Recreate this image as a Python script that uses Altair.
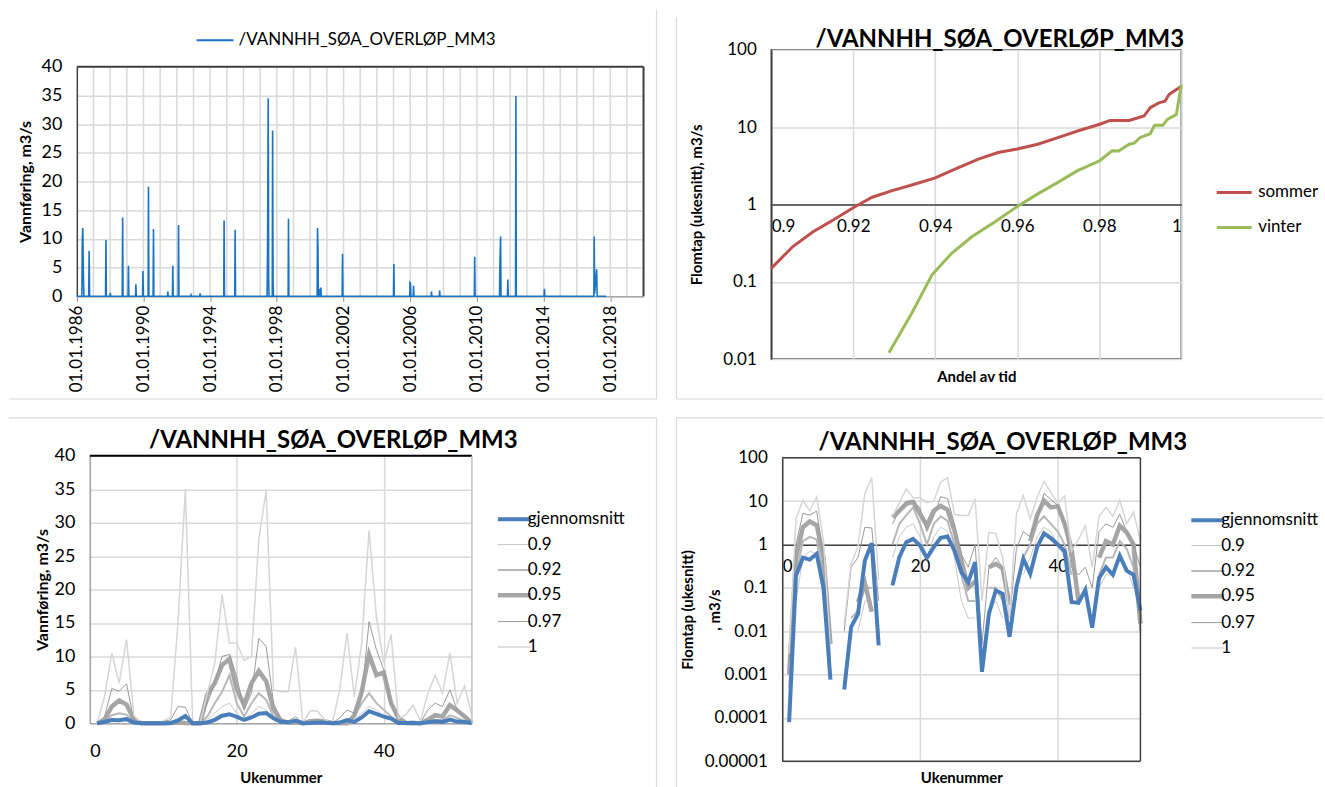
import altair as alt
import pandas as pd

FONT = "Lato"
TITLE = "/VANNHH_SØA_OVERLØP_MM3"
DARK = "#404040"
GRID = "#d9d9d9"
AXIS_GRAY = "#a6a6a6"
BORDER = "#d9d9d9"

# ---------------- Top left: flow over time ----------------
ts_dates = [
    "1986-01-01", "1986-04-22", "1986-05-01", "1986-05-12", "1986-05-24", "1986-06-05",
    "1986-09-18", "1986-09-28", "1986-10-08",
    "1987-09-22", "1987-10-01", "1987-10-10",
    "1987-12-28", "1988-01-05", "1988-01-14",
    "1988-09-22", "1988-10-01", "1988-10-10",
    "1989-01-28", "1989-02-05", "1989-02-14",
    "1989-07-10", "1989-07-18", "1989-07-27",
    "1989-12-12", "1989-12-20", "1989-12-29",
    "1990-04-12", "1990-04-20", "1990-04-29",
    "1990-07-30", "1990-08-08", "1990-08-17",
    "1991-06-10", "1991-06-18", "1991-06-27",
    "1991-09-27", "1991-10-05", "1991-10-14",
    "1992-01-31", "1992-02-08", "1992-02-17",
    "1992-11-01", "1992-11-08", "1992-11-16",
    "1993-05-17", "1993-05-25", "1993-06-03",
    "1994-10-25", "1994-11-02", "1994-11-11",
    "1995-06-24", "1995-07-02", "1995-07-11",
    "1997-06-02", "1997-06-12", "1997-06-26", "1997-07-06", "1997-07-15",
    "1997-09-22", "1997-09-30", "1997-10-10", "1997-10-19",
    "1998-09-05", "1998-09-13", "1998-09-22",
    "2000-06-02", "2000-06-10", "2000-06-20", "2000-06-29",
    "2000-07-28", "2000-08-05", "2000-08-15", "2000-08-22", "2000-08-31",
    "2001-12-02", "2001-12-10", "2001-12-19",
    "2004-12-31", "2005-01-08", "2005-01-17",
    "2005-12-20", "2005-12-28", "2006-01-08", "2006-01-17",
    "2006-03-07", "2006-03-15", "2006-03-24",
    "2007-04-04", "2007-04-12", "2007-04-21",
    "2007-09-30", "2007-10-08", "2007-10-17",
    "2009-11-06", "2009-11-14", "2009-11-23",
    "2011-05-12", "2011-05-20", "2011-06-05", "2011-06-14",
    "2011-11-02", "2011-11-10", "2011-11-19",
    "2012-04-27", "2012-05-05", "2012-05-14",
    "2014-01-12", "2014-01-20", "2014-01-29",
    "2017-01-08", "2017-01-15", "2017-01-25", "2017-03-10", "2017-03-20",
    "2017-10-01",
]
ts_values = [
    0, 0, 10.2, 11.9, 4.2, 0,
    0, 7.9, 0,
    0, 9.8, 0,
    0, 0.6, 0,
    0, 13.7, 0,
    0, 5.3, 0,
    0, 2.1, 0,
    0, 4.4, 0,
    0, 19.1, 0,
    0, 11.7, 0,
    0, 0.8, 0,
    0, 5.3, 0,
    0, 12.4, 0,
    0, 0.2, 0,
    0, 0.5, 0,
    0, 13.2, 0,
    0, 11.6, 0,
    0, 9.6, 34.5, 2.6, 0,
    0, 28.9, 2.8, 0,
    0, 13.5, 0,
    0, 11.9, 8.6, 0,
    0, 1.3, 0.4, 1.5, 0,
    0, 7.4, 0,
    0, 5.6, 0,
    0, 2.4, 2.3, 0,
    0, 1.8, 0,
    0, 0.8, 0,
    0, 1.0, 0,
    0, 6.9, 0,
    0, 5.5, 10.4, 0,
    0, 2.9, 0,
    0, 34.9, 0,
    0, 1.3, 0,
    0, 10.4, 0.5, 4.7, 0,
    0,
]
tl_label_years = [1986, 1990, 1994, 1998, 2002, 2006, 2010, 2014, 2018]
tl_grid_years = [1987, 1988, 1989, 1990, 1991, 1992, 1993, 1994, 1995, 1996, 1997,
                 1998, 1999, 2000, 2001, 2002, 2003, 2004, 2005, 2006, 2007, 2008,
                 2009, 2010, 2011, 2012, 2013, 2014, 2015, 2016, 2017, 2018, 2019, 2020]
tl_y_ticks = [0, 5, 10, 15, 20, 25, 30, 35, 40]

# ---------------- Top right: duration curves ----------------
sommer_andel = [0.9, 0.9052, 0.9101, 0.9149, 0.9202, 0.9246, 0.9295, 0.9351, 0.94, 0.9448,
                0.9505, 0.9553, 0.96, 0.965, 0.9699, 0.9747, 0.9801, 0.9826, 0.9873, 0.9909,
                0.9924, 0.9945, 0.996, 0.997, 1.0]
sommer_flomtap = [0.149, 0.283, 0.44, 0.62, 0.92, 1.24, 1.51, 1.84, 2.2, 2.87,
                  3.86, 4.7, 5.2, 6.0, 7.3, 8.9, 10.9, 12.2, 12.2, 13.9,
                  17.8, 20.6, 21.6, 26.4, 33.7]
vinter_andel = [0.9287, 0.9343, 0.9392, 0.944, 0.9489, 0.9545, 0.96, 0.965, 0.9699, 0.9747,
                0.9801, 0.9831, 0.9847, 0.9873, 0.9885, 0.9899, 0.9924, 0.9935, 0.9955, 0.9966,
                0.9988, 1.0]
vinter_flomtap = [0.0121, 0.0395, 0.123, 0.233, 0.381, 0.593, 0.94, 1.37, 1.93, 2.73,
                  3.67, 4.93, 4.9, 6.0, 6.2, 7.3, 8.2, 10.6, 10.6, 12.6,
                  14.6, 35.5]
tr_x_ticks = [0.9, 0.92, 0.94, 0.96, 0.98, 1.0]
tr_y_ticks = [0.01, 0.1, 1, 10, 100]

# ---------------- Bottom: per week ----------------
uker = list(range(1, 53))
gjennomsnitt = [0.00008, 0.19, 0.5, 0.45, 0.61, 0.10, 0.00076, 0, 0.00045, 0.0125,
                0.025, 0.43, 1.07, 0.0047, 0, 0.114, 0.51, 1.13, 1.35, 0.95,
                0.49, 0.87, 1.43, 1.53, 0.73, 0.23, 0.135, 0.39, 0.00115, 0.025,
                0.087, 0.073, 0.0074, 0.104, 0.47, 0.21, 0.87, 1.8, 1.4, 1.0,
                0.7, 0.047, 0.045, 0.09, 0.012, 0.17, 0.3, 0.2, 0.55, 0.25,
                0.2, 0.03]
s090 = [0, 0.05, 0.5, 0.7, 0.6, 0.05, 0, 0, 0, 0,
        0.01, 0.05, 0.05, 0, 0, 0.5, 1.5, 2.5, 3, 1.5,
        0.5, 1.5, 2.5, 2, 0.5, 0.05, 0.02, 0.02, 0, 0.03,
        0.05, 0.02, 0, 0, 0.2, 0.5, 1.5, 2.5, 2, 1,
        0.5, 0.05, 0, 0, 0, 0.1, 0.2, 0.2, 0.5, 0.3,
        0.1, 0]
s092 = [0.0005, 0.2, 1.2, 1.5, 1.3, 0.2, 0, 0, 0, 0.02,
        0.03, 0.1, 0.1, 0, 0, 1, 3, 4.7, 7.2, 3,
        1, 3, 4.5, 3.5, 1, 0.2, 0.05, 0.05, 0, 0.1,
        0.1, 0.05, 0.02, 0, 0.5, 1, 3, 4.5, 3, 2,
        1, 0.2, 0, 0, 0, 0.2, 0.5, 0.5, 1.2, 0.8,
        0.3, 0.01]
s095 = [0.001, 0.5, 2.5, 3.4, 2.8, 0.5, 0.005, 0, 0, 0,
        0.047, 0.126, 0.028, 0, 0, 4.3, 6, 8.7, 9.6, 5.1,
        2.75, 6, 7.8, 6.3, 2.1, 0.43, 0.1, 0.14, 0, 0.3,
        0.36, 0.28, 0.04, 0, 0, 1.2, 4.7, 10.3, 7.2, 7.6,
        3, 0.8, 0.05, 0, 0, 0.5, 1.2, 1.0, 2.7, 1.9,
        1.0, 0.015]
s097 = [0.002, 1, 5.2, 4.8, 5.9, 0.5, 0.002, 0, 0.01, 0.3,
        0.5, 2.5, 2.4, 0.05, 0, 3, 6, 10, 10.3, 7,
        2, 4.5, 12.7, 11.5, 3, 0.6, 0.3, 1, 0.005, 0.3,
        0.5, 0.3, 0.02, 0.8, 2, 1.5, 4, 15.2, 11, 8,
        3, 0.3, 0.2, 0.3, 0.1, 2, 3, 2.5, 5, 2,
        1, 0.3]
s100 = [0.003, 4, 10.5, 6, 12.5, 1.2, 0.003, 0, 0.015, 0.36,
        0.9, 15, 35, 0.15, 0, 4.5, 9, 19.2, 12, 12,
        9.4, 10, 27.6, 34.8, 5, 4.7, 4.7, 11.4, 0.05, 1.9,
        1.8, 0.5, 0.02, 5, 13.5, 3.9, 12, 28.8, 16, 9,
        13.3, 0.7, 1.3, 2.7, 0.3, 4.5, 7.2, 4.5, 10.5, 3,
        5.6, 1.2]
series_names = ["gjennomsnitt", "0.9", "0.92", "0.95", "0.97", "1"]
series_values = [gjennomsnitt, s090, s092, s095, s097, s100]
series_colors = ["#4A7EBB", "#c8c8c8", "#b8b8b8", "#a6a6a6", "#9a9a9a", "#d6d6d6"]
series_widths = [4, 1, 2, 4.5, 1, 1.5]
week_ticks = [0, 20, 40]
bl_y_ticks = [0, 5, 10, 15, 20, 25, 30, 35, 40]
br_y_ticks = [0.00001, 0.0001, 0.001, 0.01, 0.1, 1, 10, 100]

# ================= build frames =================
ts = pd.DataFrame({"dato": pd.to_datetime(ts_dates), "verdi": ts_values})
ts["serie"] = TITLE
grid_df = pd.DataFrame({"dato": pd.to_datetime([f"{y}-01-01" for y in tl_grid_years])})
one = pd.DataFrame({"k": [0]})

tr_df = pd.concat([
    pd.DataFrame({"andel": sommer_andel, "flomtap": sommer_flomtap, "sesong": "sommer"}),
    pd.DataFrame({"andel": vinter_andel, "flomtap": vinter_flomtap, "sesong": "vinter"}),
], ignore_index=True)

rows = []
for name, vals, w in zip(series_names, series_values, series_widths):
    for u, v in zip(uker, vals):
        rows.append({"uke": u, "verdi": v, "serie": name, "bredde": w})
wk = pd.DataFrame(rows)
wk_log = wk.copy()
wk_log["verdi"] = wk_log["verdi"].where(wk_log["verdi"] > 0)


def border(x=None, x2=None, y=None, y2=None):
    """Light grey frame line of the chart object (pure decoration, view pixels)."""
    enc = {"x": alt.value(x), "y": alt.value(y)}
    if x2 is not None:
        enc["x2"] = alt.value(x2)
    if y2 is not None:
        enc["y2"] = alt.value(y2)
    return alt.Chart(one).mark_rule(color=BORDER, strokeWidth=1.2).encode(**enc)


def title_text(x, y):
    return alt.Chart(one).mark_text(
        text=TITLE, fontSize=24, fontWeight="bold", font=FONT, color="#000000",
        align="center", baseline="middle",
    ).encode(x=alt.value(x), y=alt.value(y))


# ================= Top left =================
TL_W, TL_H = 568, 247
tl_x_scale = alt.Scale(domain=[alt.DateTime(year=1986, month=1, date=1),
                               alt.DateTime(year=2020, month=1, date=1)])
tl_y_scale = alt.Scale(domain=[0, 40], range=[TL_H, 17], nice=False, zero=False)
tl_x_axis = alt.Axis(values=[alt.DateTime(year=y, month=1, date=1) for y in tl_label_years],
                     format="%d.%m.%Y", labelAngle=-90, grid=False, title=None,
                     ticks=True, tickSize=5, tickColor="#8c8c8c", domainColor=AXIS_GRAY,
                     domainWidth=1.5, labelFontSize=17, labelPadding=4)
tl_y_axis = alt.Axis(values=tl_y_ticks, grid=True, title="Vannføring, m3/s",
                     ticks=False, labelPadding=15, labelFontSize=18, titleFontSize=16,
                     titlePadding=8, domainColor=DARK, domainWidth=1.5)

tl_grid = alt.Chart(grid_df).mark_rule(color=GRID, strokeWidth=1.5).encode(
    x=alt.X("dato:T", scale=tl_x_scale, axis=tl_x_axis),
    y=alt.Y(datum=0, type="quantitative", scale=tl_y_scale, axis=tl_y_axis),
    y2=alt.Y2(datum=40),
)
tl_line = alt.Chart(ts).mark_line(strokeWidth=1.6).encode(
    x=alt.X("dato:T", scale=tl_x_scale, axis=tl_x_axis),
    y=alt.Y("verdi:Q", scale=tl_y_scale, axis=tl_y_axis),
    color=alt.Color("serie:N", scale=alt.Scale(domain=[TITLE], range=["#1A73C4"]),
                    legend=alt.Legend(orient="none", legendX=119, legendY=-29, title=None,
                                      symbolType="stroke", symbolSize=1369,
                                      symbolStrokeWidth=2, labelFontSize=17, labelOffset=4,
                                      labelLimit=0)),
)
tl_top = alt.Chart(one).mark_rule(color=DARK, strokeWidth=2).encode(
    x=alt.X(datum=alt.DateTime(year=1986, month=1, date=1), type="temporal",
            scale=tl_x_scale, axis=tl_x_axis),
    x2=alt.X2(datum=alt.DateTime(year=2020, month=1, date=1)),
    y=alt.Y(datum=40, type="quantitative", scale=tl_y_scale, axis=tl_y_axis),
)
tl_right = alt.Chart(one).mark_rule(color=DARK, strokeWidth=2).encode(
    x=alt.X(datum=alt.DateTime(year=2020, month=1, date=1), type="temporal",
            scale=tl_x_scale, axis=tl_x_axis),
    y=alt.Y(datum=0, type="quantitative", scale=tl_y_scale, axis=tl_y_axis),
    y2=alt.Y2(datum=40),
)
tl = alt.layer(
    tl_grid, tl_line, tl_top, tl_right,
    border(x=581, y=-40, y2=350), border(x=-68, x2=581, y=350),
).properties(width=TL_W, height=TL_H)

# ================= Top right =================
TR_W, TR_H = 411, 310
tr_lines = alt.Chart(tr_df).mark_line(strokeWidth=3).encode(
    x=alt.X("andel:Q", scale=alt.Scale(domain=[0.9, 1.0], nice=False, zero=False),
            axis=alt.Axis(values=tr_x_ticks, format="~f", offset=-155, grid=True,
                          ticks=False, labelPadding=14, domainColor=DARK, domainWidth=1.5,
                          labelFontSize=17, title="Andel av tid", titleFontSize=15,
                          titleY=172, titleBaseline="middle")),
    y=alt.Y("flomtap:Q", scale=alt.Scale(type="log", domain=[0.01, 100], nice=False),
            axis=alt.Axis(values=tr_y_ticks, format="~f", grid=True, ticks=False,
                          labelPadding=15, labelFontSize=17, domainColor=DARK,
                          domainWidth=1.5, title="Flomtap (ukesnitt), m3/s",
                          titleFontSize=15, titlePadding=18)),
    color=alt.Color("sesong:N",
                    scale=alt.Scale(domain=["sommer", "vinter"], range=["#C0504D", "#9BBB59"]),
                    legend=alt.Legend(orient="none", legendX=445, legendY=124, title=None,
                                      symbolType="stroke", symbolSize=1225,
                                      symbolStrokeWidth=3, labelFontSize=17, labelOffset=5,
                                      rowPadding=8)),
)
tr = alt.layer(
    tr_lines, title_text(229, -10),
    border(x=-95, y=-33, y2=350), border(x=-95, x2=553, y=350),
).properties(
    width=TR_W, height=TR_H,
    view=alt.ViewBackground(stroke=DARK, strokeWidth=1.5),
)

# ================= Bottom (shared pieces) =================
width_expr = " : ".join(
    f"datum.value === '{n}' ? {w}" for n, w in zip(series_names, series_widths)) + " : 1"
color_scale = alt.Scale(domain=series_names, range=series_colors)


def week_lines(data, xs, ys, xa, ya, lx, ly):
    enc = dict(
        x=alt.X("uke:Q", scale=xs, axis=xa),
        y=alt.Y("verdi:Q", scale=ys, axis=ya),
        color=alt.Color("serie:N", scale=color_scale,
                        legend=alt.Legend(orient="none", legendX=lx, legendY=ly, title=None,
                                          symbolType="stroke", symbolSize=1089,
                                          symbolStrokeWidth={"expr": width_expr},
                                          labelFontSize=17, labelOffset=5, rowPadding=7.4)),
        strokeWidth=alt.StrokeWidth("bredde:Q", scale=None),
    )
    grays = alt.Chart(data).mark_line().encode(**enc).transform_filter(
        alt.datum.serie != "gjennomsnitt")
    blue = alt.Chart(data).mark_line().encode(**enc).transform_filter(
        alt.datum.serie == "gjennomsnitt")
    return grays, blue


# ================= Bottom left =================
BL_W, BL_H = 396, 268
bl_x_scale = alt.Scale(domain=[0, 52], range=[13, BL_W], nice=False, zero=False)
bl_y_scale = alt.Scale(domain=[0, 40], nice=False, zero=False)
bl_x_axis = alt.Axis(values=week_ticks, grid=True, ticks=False, labelPadding=19,
                     labelFontSize=18, domainColor=AXIS_GRAY, domainWidth=1.5,
                     title="Ukenummer", titleFontSize=15, titlePadding=10)
bl_y_axis = alt.Axis(values=bl_y_ticks, grid=True, ticks=False, offset=-13,
                     labelPadding=15, labelFontSize=18, domainColor=AXIS_GRAY,
                     domainWidth=1.5, title="Vannføring, m3/s", titleFontSize=16,
                     titlePadding=4)

bl_grays, bl_blue = week_lines(wk, bl_x_scale, bl_y_scale, bl_x_axis, bl_y_axis, 430, 55)
bl_top = alt.Chart(one).mark_rule(color="#000000", strokeWidth=2).encode(
    x=alt.X(datum=0, type="quantitative", scale=bl_x_scale, axis=bl_x_axis),
    x2=alt.X2(datum=52),
    y=alt.Y(datum=40, type="quantitative", scale=bl_y_scale, axis=bl_y_axis),
)
bl_right = alt.Chart(one).mark_rule(color="#bfbfbf", strokeWidth=1.5).encode(
    x=alt.X(datum=52, type="quantitative", scale=bl_x_scale, axis=bl_x_axis),
    y=alt.Y(datum=0, type="quantitative", scale=bl_y_scale, axis=bl_y_axis),
    y2=alt.Y2(datum=40),
)
bl = alt.layer(
    bl_grays, bl_blue, bl_top, bl_right, title_text(257, -15),
    border(x=-68, x2=581, y=-38), border(x=581, y=-38, y2=332),
).properties(width=BL_W, height=BL_H)

# ================= Bottom right =================
BR_W, BR_H = 370, 306
br_x_scale = alt.Scale(domain=[0, 52], range=[11, BR_W], nice=False, zero=False)
br_y_scale = alt.Scale(type="log", domain=[0.00001, 100], range=[BR_H, 2], nice=False)
br_x_axis = alt.Axis(values=week_ticks, grid=True, ticks=False, offset=-217,
                     labelPadding=14, labelFontSize=17, domainColor=DARK, domainWidth=1.5,
                     title="Ukenummer", titleFontSize=15, titleY=233, titleBaseline="middle")
br_y_axis = alt.Axis(values=br_y_ticks, format="~f", grid=True, ticks=False, offset=-11,
                     labelPadding=15, labelFontSize=17, domainColor=DARK, domainWidth=1.5,
                     title=["Flomtap (ukesnitt)", ", m3/s"], titleFontSize=15,
                     titleX=-95, titleBaseline="middle", titleLineHeight=27)

br_grays, br_blue = week_lines(wk_log, br_x_scale, br_y_scale, br_x_axis, br_y_axis, 429, 56)
br_top = alt.Chart(one).mark_rule(color=DARK, strokeWidth=1.5).encode(
    x=alt.X(datum=0, type="quantitative", scale=br_x_scale, axis=br_x_axis),
    x2=alt.X2(datum=52),
    y=alt.Y(datum=100, type="quantitative", scale=br_y_scale, axis=br_y_axis),
)
br_bottom = alt.Chart(one).mark_rule(color=DARK, strokeWidth=1.5).encode(
    x=alt.X(datum=0, type="quantitative", scale=br_x_scale, axis=br_x_axis),
    x2=alt.X2(datum=52),
    y=alt.Y(datum=0.00001, type="quantitative", scale=br_y_scale, axis=br_y_axis),
)
br_right = alt.Chart(one).mark_rule(color=DARK, strokeWidth=1.5).encode(
    x=alt.X(datum=52, type="quantitative", scale=br_x_scale, axis=br_x_axis),
    y=alt.Y(datum=0.00001, type="quantitative", scale=br_y_scale, axis=br_y_axis),
    y2=alt.Y2(datum=100),
)
br = alt.layer(
    br_grays, br_blue, br_top, br_bottom, br_right, title_text(232, -13),
    border(x=-95, x2=553, y=-38), border(x=-95, y=-38, y2=332),
).properties(width=BR_W, height=BR_H)

chart = alt.concat(
    tl, tr, bl, br, columns=2,
    spacing=alt.RowColnumber(row=97, column=128),
    bounds="flush", align="each",
).resolve_scale(
    color="independent",
).resolve_legend(
    color="independent",
).properties(
    padding={"left": 8, "top": 8, "right": 0, "bottom": 0},
    background="white",
).configure(
    font=FONT,
).configure_view(
    stroke=None,
).configure_axis(
    labelFont=FONT, titleFont=FONT, labelColor="#000000", titleColor="#000000",
    titleFontWeight="bold", gridColor=GRID, gridWidth=1.5,
).configure_legend(
    labelFont=FONT, labelColor="#000000",
)

chart.save("out.html", embed_options={"renderer": "svg", "actions": False})
